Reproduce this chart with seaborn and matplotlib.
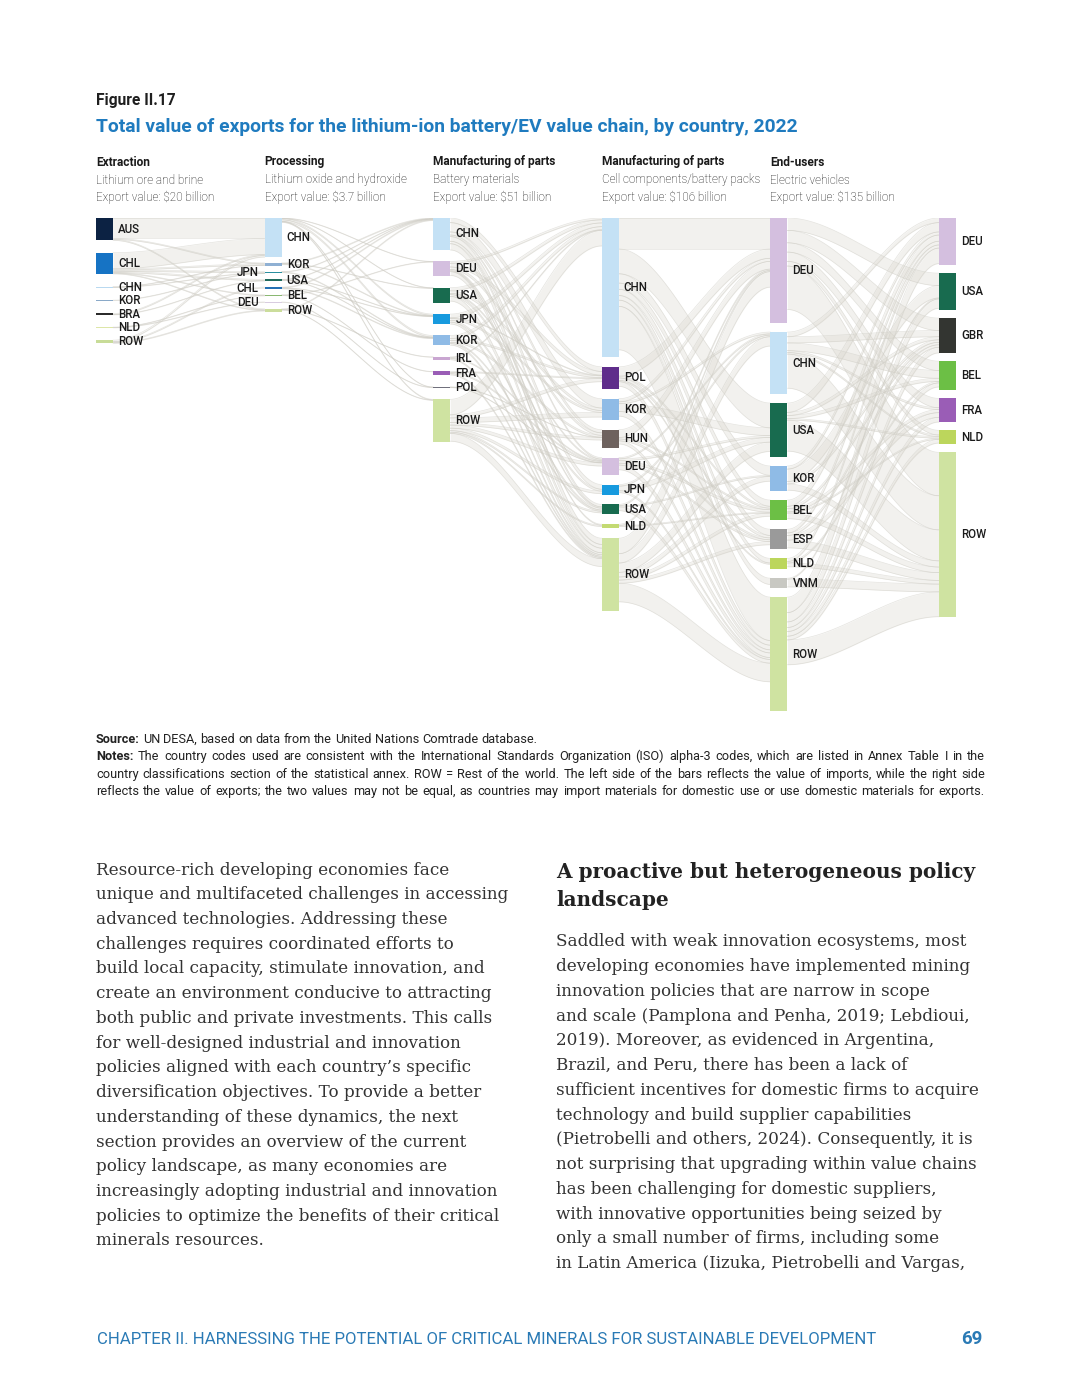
import numpy as np
import matplotlib
matplotlib.use("Agg")
import matplotlib.pyplot as plt
import seaborn as sns

# ---- node values per column (billion USD) ----
extraction_names = ["AUS", "CHL", "CHN", "KOR", "BRA", "NLD", "ROW"]
extraction_values = [7.2, 7.0, 0.3, 0.3, 0.4, 0.2, 1.0]

processing_names = ["CHN", "KOR", "JPN", "USA", "CHL", "BEL", "DEU", "ROW"]
processing_values = [12.6, 0.9, 0.6, 0.6, 0.6, 0.4, 0.3, 1.0]

materials_names = ["CHN", "DEU", "USA", "JPN", "KOR", "IRL", "FRA", "POL", "ROW"]
materials_values = [10.3, 4.8, 4.8, 3.2, 3.2, 1.0, 1.3, 0.3, 13.9]

cells_names = ["CHN", "POL", "KOR", "HUN", "DEU", "JPN", "USA", "NLD", "ROW"]
cells_values = [44.8, 7.1, 6.8, 5.8, 5.5, 3.2, 3.2, 1.3, 23.5]

ev_names = ["DEU", "CHN", "USA", "KOR", "BEL", "ESP", "NLD", "VNM", "ROW"]
ev_values = [33.9, 20.0, 17.4, 8.1, 6.5, 6.5, 3.5, 3.2, 36.8]

importer_names = ["DEU", "USA", "GBR", "BEL", "FRA", "NLD", "ROW"]
importer_values = [15.2, 11.9, 11.3, 9.4, 7.7, 4.5, 53.2]

# ---- trade flows between consecutive columns (source, target, billion USD) ----
flows_extraction = [
    ("AUS", "CHN", 6.6), ("AUS", "KOR", 0.3), ("AUS", "ROW", 0.3),
    ("CHL", "CHN", 5.2), ("CHL", "KOR", 0.4), ("CHL", "JPN", 0.4), ("CHL", "USA", 0.4),
    ("CHL", "BEL", 0.2), ("CHL", "ROW", 0.2), ("CHN", "JPN", 0.1), ("CHN", "KOR", 0.1),
    ("KOR", "JPN", 0.1), ("BRA", "CHN", 0.3), ("BRA", "USA", 0.1), ("NLD", "BEL", 0.1),
    ("NLD", "DEU", 0.1), ("ROW", "CHN", 0.5), ("ROW", "CHL", 0.3), ("ROW", "ROW", 0.2),
]
flows_processing = [
    ("CHN", "KOR", 0.5), ("CHN", "JPN", 0.4), ("CHN", "DEU", 0.1), ("CHN", "USA", 0.1),
    ("CHN", "POL", 0.1), ("CHN", "ROW", 0.2), ("KOR", "CHN", 0.2), ("KOR", "JPN", 0.2),
    ("KOR", "USA", 0.1), ("JPN", "KOR", 0.2), ("JPN", "CHN", 0.1), ("USA", "KOR", 0.1),
    ("USA", "JPN", 0.1), ("USA", "CHN", 0.1), ("CHL", "KOR", 0.2), ("CHL", "CHN", 0.2),
    ("CHL", "JPN", 0.1), ("BEL", "FRA", 0.1), ("BEL", "DEU", 0.1), ("DEU", "POL", 0.1),
    ("ROW", "CHN", 0.2), ("ROW", "IRL", 0.1), ("ROW", "ROW", 0.1),
]
flows_materials = [
    ("CHN", "KOR", 3.0), ("CHN", "JPN", 1.5), ("CHN", "POL", 1.5), ("CHN", "HUN", 1.0),
    ("CHN", "USA", 0.8), ("CHN", "ROW", 2.0), ("CHN", "DEU", 0.5),
    ("DEU", "POL", 1.2), ("DEU", "HUN", 0.8), ("DEU", "CHN", 0.6), ("DEU", "ROW", 1.2),
    ("DEU", "USA", 0.4), ("DEU", "NLD", 0.3),
    ("USA", "CHN", 1.0), ("USA", "KOR", 0.8), ("USA", "JPN", 0.6), ("USA", "ROW", 1.5),
    ("USA", "DEU", 0.4),
    ("JPN", "CHN", 1.2), ("JPN", "KOR", 0.6), ("JPN", "USA", 0.6), ("JPN", "ROW", 0.6),
    ("JPN", "POL", 0.2),
    ("KOR", "CHN", 1.0), ("KOR", "POL", 0.6), ("KOR", "HUN", 0.6), ("KOR", "USA", 0.4),
    ("KOR", "ROW", 0.5),
    ("IRL", "DEU", 0.3), ("IRL", "ROW", 0.4), ("IRL", "CHN", 0.2),
    ("FRA", "DEU", 0.4), ("FRA", "POL", 0.3), ("FRA", "ROW", 0.4),
    ("POL", "DEU", 0.1), ("POL", "HUN", 0.1),
    ("ROW", "CHN", 5.0), ("ROW", "KOR", 1.5), ("ROW", "JPN", 0.8), ("ROW", "DEU", 1.0),
    ("ROW", "POL", 1.0), ("ROW", "HUN", 0.8), ("ROW", "USA", 0.5), ("ROW", "NLD", 0.4),
    ("ROW", "ROW", 2.5),
]
flows_cells = [
    ("CHN", "DEU", 10.0), ("CHN", "USA", 8.0), ("CHN", "KOR", 3.0), ("CHN", "BEL", 2.0),
    ("CHN", "ESP", 2.0), ("CHN", "NLD", 1.5), ("CHN", "VNM", 2.0), ("CHN", "ROW", 14.0),
    ("POL", "DEU", 3.0), ("POL", "ROW", 1.5), ("POL", "ESP", 0.8), ("POL", "BEL", 0.6),
    ("POL", "NLD", 0.4),
    ("KOR", "USA", 2.5), ("KOR", "DEU", 1.0), ("KOR", "ROW", 1.5), ("KOR", "CHN", 0.6),
    ("HUN", "DEU", 2.5), ("HUN", "ROW", 1.0), ("HUN", "ESP", 0.6), ("HUN", "BEL", 0.5),
    ("DEU", "USA", 0.6), ("DEU", "ROW", 1.5), ("DEU", "ESP", 0.6), ("DEU", "BEL", 0.8),
    ("DEU", "CHN", 0.4),
    ("JPN", "USA", 1.5), ("JPN", "CHN", 0.5), ("JPN", "ROW", 0.6),
    ("USA", "KOR", 0.4), ("USA", "ROW", 1.2), ("USA", "DEU", 0.4),
    ("NLD", "DEU", 0.4), ("NLD", "BEL", 0.3),
    ("ROW", "DEU", 5.0), ("ROW", "CHN", 3.0), ("ROW", "USA", 3.0), ("ROW", "KOR", 1.5),
    ("ROW", "BEL", 1.0), ("ROW", "ESP", 1.0), ("ROW", "ROW", 6.0),
]
flows_ev = [
    ("DEU", "USA", 4.0), ("DEU", "GBR", 4.0), ("DEU", "BEL", 3.0), ("DEU", "FRA", 3.0),
    ("DEU", "NLD", 1.5), ("DEU", "ROW", 14.0),
    ("CHN", "BEL", 2.5), ("CHN", "GBR", 2.0), ("CHN", "DEU", 1.5), ("CHN", "FRA", 0.6),
    ("CHN", "NLD", 0.5), ("CHN", "ROW", 11.0),
    ("USA", "DEU", 3.0), ("USA", "BEL", 1.0), ("USA", "GBR", 1.0), ("USA", "NLD", 0.5),
    ("USA", "ROW", 10.0),
    ("KOR", "USA", 4.0), ("KOR", "DEU", 1.0), ("KOR", "GBR", 0.8), ("KOR", "ROW", 2.0),
    ("BEL", "DEU", 2.0), ("BEL", "FRA", 1.0), ("BEL", "GBR", 0.8), ("BEL", "NLD", 0.4),
    ("BEL", "ROW", 1.8),
    ("ESP", "DEU", 1.2), ("ESP", "FRA", 1.5), ("ESP", "GBR", 0.8), ("ESP", "ROW", 2.5),
    ("NLD", "DEU", 1.0), ("NLD", "BEL", 0.5), ("NLD", "ROW", 1.2),
    ("VNM", "USA", 0.3), ("VNM", "ROW", 2.5),
    ("ROW", "DEU", 5.0), ("ROW", "USA", 3.0), ("ROW", "GBR", 1.8), ("ROW", "BEL", 1.3),
    ("ROW", "FRA", 1.5), ("ROW", "NLD", 1.2), ("ROW", "ROW", 8.0),
]

stage_titles = ["Extraction", "Processing", "Manufacturing of parts",
                "Manufacturing of parts", "End-users"]
stage_products = ["Lithium ore and brine", "Lithium oxide and hydroxide", "Battery materials",
                  "Cell components/battery packs", "Electric vehicles"]
stage_exports = ["Export value: $20 billion", "Export value: $3.7 billion",
                 "Export value: $51 billion", "Export value: $106 billion",
                 "Export value: $135 billion"]

# ---- styling ----
base_colors = {
    "AUS": "#0c2243", "CHL": "#1673c4", "CHN": "#c4e1f5", "KOR": "#8fbbe6",
    "BRA": "#2b2b2b", "NLD": "#bcd65c", "ROW": "#cfe3a1", "JPN": "#179ade",
    "USA": "#186b4f", "DEU": "#d4bfdf", "IRL": "#c9a6d1", "FRA": "#9a5db6",
    "POL": "#5f2d8b", "HUN": "#6e625e", "BEL": "#6cbf45", "ESP": "#9a9a9a",
    "VNM": "#c8c8c2", "GBR": "#333531",
}
column_overrides = [
    {"CHN": "#b9d9f0", "KOR": "#8aa9c8", "NLD": "#dde6a8", "ROW": "#c8dc98"},
    {"KOR": "#8fb0d3", "JPN": "#2a8f9f", "USA": "#1f6a5c", "CHL": "#2470b3",
     "BEL": "#8ab872", "DEU": "#d8cce0", "ROW": "#cbdd9c"},
    {"POL": "#70707c"},
    {"NLD": "#c3da72"},
    {},
    {},
]
left_labels = {(1, "JPN"), (1, "CHL"), (1, "DEU")}
column_gaps = [4.0, 1.9, 3.7, 3.2, 2.9, 2.6]

sns.set_theme(style="white")
SANS = ["Roboto", "DejaVu Sans"]
SERIF = ["DejaVu Serif"]
plt.rcParams["font.family"] = SANS

W, H = 1080, 1397
fig = plt.figure(figsize=(W / 100, H / 100), dpi=100)
fig.patch.set_facecolor("white")


def fx(x):
    return x / W


def fy(y):
    return 1 - y / H


PX_PER_BN = 3.1
COL_STEP = 168.6
BAR_W = 17 / COL_STEP
left_px, right_px, top_px, bottom_px = 96, 1000, 218, 718

ax = fig.add_axes([fx(left_px), fy(bottom_px), (right_px - left_px) / W,
                   (bottom_px - top_px) / H])
ax.set_xlim(0, (right_px - left_px) / COL_STEP)
ax.set_ylim((bottom_px - top_px) / PX_PER_BN, 0)
ax.axis("off")

columns = [
    (extraction_names, extraction_values),
    (processing_names, processing_values),
    (materials_names, materials_values),
    (cells_names, cells_values),
    (ev_names, ev_values),
    (importer_names, importer_values),
]
stage_flows = [flows_extraction, flows_processing, flows_materials, flows_cells, flows_ev]

# node tops from stacking values with a gap
tops = []
for (names, vals), gap in zip(columns, column_gaps):
    y = 0.0
    col_tops = {}
    for n, v in zip(names, vals):
        col_tops[n] = y
        y += v + gap
    tops.append(col_tops)

# ---- ribbons ----
t = np.linspace(0, 1, 80)
s = 3 * t ** 2 - 2 * t ** 3
for k, flows in enumerate(stage_flows):
    src_names = columns[k][0]
    tgt_names = columns[k + 1][0]
    x0 = k + BAR_W
    x1 = k + 1
    xs = x0 + (x1 - x0) * t
    src_off = {n: tops[k][n] for n in src_names}
    tgt_off = {n: tops[k + 1][n] for n in tgt_names}
    out_pos = {}
    for f in sorted(flows, key=lambda f: (src_names.index(f[0]), tgt_names.index(f[1]))):
        out_pos[(f[0], f[1])] = src_off[f[0]]
        src_off[f[0]] += f[2]
    in_pos = {}
    for f in sorted(flows, key=lambda f: (tgt_names.index(f[1]), src_names.index(f[0]))):
        in_pos[(f[0], f[1])] = tgt_off[f[1]]
        tgt_off[f[1]] += f[2]
    for a, b, v in flows:
        ya = out_pos[(a, b)]
        yb = in_pos[(a, b)]
        top_c = ya + (yb - ya) * s
        bot_c = top_c + v
        ax.fill_between(xs, top_c, bot_c, color="#dcdad2", alpha=0.36, lw=0, zorder=1)
        ax.plot(xs, top_c, color="#cfcdc5", lw=0.5, alpha=0.55, zorder=2)
        ax.plot(xs, bot_c, color="#cfcdc5", lw=0.5, alpha=0.55, zorder=2)

# ---- bars and labels ----
for k, (names, vals) in enumerate(columns):
    colors = [column_overrides[k].get(n, base_colors[n]) for n in names]
    bottoms = [tops[k][n] for n in names]
    ax.bar([k] * len(names), vals, bottom=bottoms, width=BAR_W, align="edge",
           color=colors, linewidth=0, zorder=3)
    for n, v in zip(names, vals):
        yc = tops[k][n] + v / 2
        if (k, n) in left_labels:
            ax.text(k - 0.035, yc, n, ha="right", va="center", fontsize=8.3,
                    fontweight="medium", color="#1a1a1a", family=SANS)
        else:
            ax.text(k + BAR_W + 0.03, yc, n, ha="left", va="center", fontsize=8.3,
                    fontweight="medium", color="#1a1a1a", family=SANS)

# ---- column headers ----
for k in range(5):
    x = fx(left_px + k * COL_STEP)
    fig.text(x, fy(162), stage_titles[k], fontsize=8.6, fontweight="bold",
             color="#1a1a1a", va="center", family=SANS)
    fig.text(x, fy(180), stage_products[k], fontsize=8.5, fontweight="light",
             color="#111111", va="center", family=SANS)
    fig.text(x, fy(197), stage_exports[k], fontsize=8.5, fontweight="light",
             color="#111111", va="center", family=SANS)

# ---- titles ----
fig.text(fx(96), fy(101), "Figure II.17", fontsize=11.2, fontweight="bold",
         color="#1f1f1f", va="center", family=SANS)
fig.text(fx(96), fy(127),
         "Total value of exports for the lithium-ion battery/EV value chain, by country, 2022",
         fontsize=13.9, fontweight="bold", color="#1f7bbf", va="center", family=SANS)

renderer = fig.canvas.get_renderer()


def justify_line(y, parts, x0, x1, size, justify=True):
    # parts: list of (text, weight); words placed one by one across x0..x1
    words = []
    for txt, wt in parts:
        for w in txt.split():
            words.append((w, wt))
    widths = []
    objs = []
    for w, wt in words:
        o = fig.text(0, fy(y + 3.6), w, fontsize=size, fontweight=wt, color="#222222",
                     va="baseline", family=SANS)
        widths.append(o.get_window_extent(renderer).width)
        objs.append(o)
    probe1 = fig.text(0, 0, "a a", fontsize=size, family=SANS)
    probe2 = fig.text(0, 0, "aa", fontsize=size, family=SANS)
    space = probe1.get_window_extent(renderer).width - probe2.get_window_extent(renderer).width
    probe1.remove()
    probe2.remove()
    total = sum(widths)
    gap = (x1 - x0 - total) / (len(words) - 1) if justify else space
    x = x0
    for o, w in zip(objs, widths):
        o.set_x(fx(x))
        x += w + gap


NOTE_SIZE = 9.2
justify_line(739, [("Source:", "bold"),
                   ("UN DESA, based on data from the United Nations Comtrade database.", "normal")],
             96, 985, NOTE_SIZE, justify=False)
justify_line(756, [("Notes:", "bold"),
                   ("The country codes used are consistent with the International Standards "
                    "Organization (ISO) alpha-3 codes, which are listed in Annex Table I in the",
                    "normal")], 96, 985, NOTE_SIZE)
justify_line(774, [("country classifications section of the statistical annex. ROW = Rest of the "
                    "world. The left side of the bars reflects the value of imports, while the "
                    "right side", "normal")], 96, 985, NOTE_SIZE)
justify_line(791, [("reflects the value of exports; the two values may not be equal, as countries "
                    "may import materials for domestic use or use domestic materials for exports.",
                    "normal")], 96, 985, NOTE_SIZE)

# ---- body text ----
left_body = [
    "Resource-rich developing economies face",
    "unique and multifaceted challenges in accessing",
    "advanced technologies. Addressing these",
    "challenges requires coordinated efforts to",
    "build local capacity, stimulate innovation, and",
    "create an environment conducive to attracting",
    "both public and private investments. This calls",
    "for well-designed industrial and innovation",
    "policies aligned with each country\u2019s specific",
    "diversification objectives. To provide a better",
    "understanding of these dynamics, the next",
    "section provides an overview of the current",
    "policy landscape, as many economies are",
    "increasingly adopting industrial and innovation",
    "policies to optimize the benefits of their critical",
    "minerals resources.",
]
right_body = [
    "Saddled with weak innovation ecosystems, most",
    "developing economies have implemented mining",
    "innovation policies that are narrow in scope",
    "and scale (Pamplona and Penha, 2019; Lebdioui,",
    "2019). Moreover, as evidenced in Argentina,",
    "Brazil, and Peru, there has been a lack of",
    "sufficient incentives for domestic firms to acquire",
    "technology and build supplier capabilities",
    "(Pietrobelli and others, 2024). Consequently, it is",
    "not surprising that upgrading within value chains",
    "has been challenging for domestic suppliers,",
    "with innovative opportunities being seized by",
    "only a small number of firms, including some",
    "in Latin America (Iizuka, Pietrobelli and Vargas,",
]
LINE = 24.73
BODY_SIZE = 12.05
for i, line in enumerate(left_body):
    fig.text(fx(96), fy(870 + i * LINE), line, fontsize=BODY_SIZE, color="#333333",
             va="center", family=SERIF)
for i, line in enumerate(right_body):
    fig.text(fx(556), fy(942 + i * LINE), line, fontsize=BODY_SIZE, color="#333333",
             va="center", family=SERIF)
fig.text(fx(556), fy(872), "A proactive but heterogeneous policy", fontsize=14.4,
         fontweight="bold", color="#222222", va="center", family=SERIF)
fig.text(fx(556), fy(900), "landscape", fontsize=14.4, fontweight="bold",
         color="#222222", va="center", family=SERIF)

# ---- footer ----
fig.text(fx(97), fy(1340),
         "CHAPTER II. HARNESSING THE POTENTIAL OF CRITICAL MINERALS FOR SUSTAINABLE DEVELOPMENT",
         fontsize=12.1, color="#2a7ab5", va="center", family=SANS)
fig.text(fx(983), fy(1339), "69", fontsize=13.5, fontweight="bold", color="#2a7ab5",
         va="center", ha="right", family=SANS)

fig.savefig("out.png", dpi=100, facecolor="white")
